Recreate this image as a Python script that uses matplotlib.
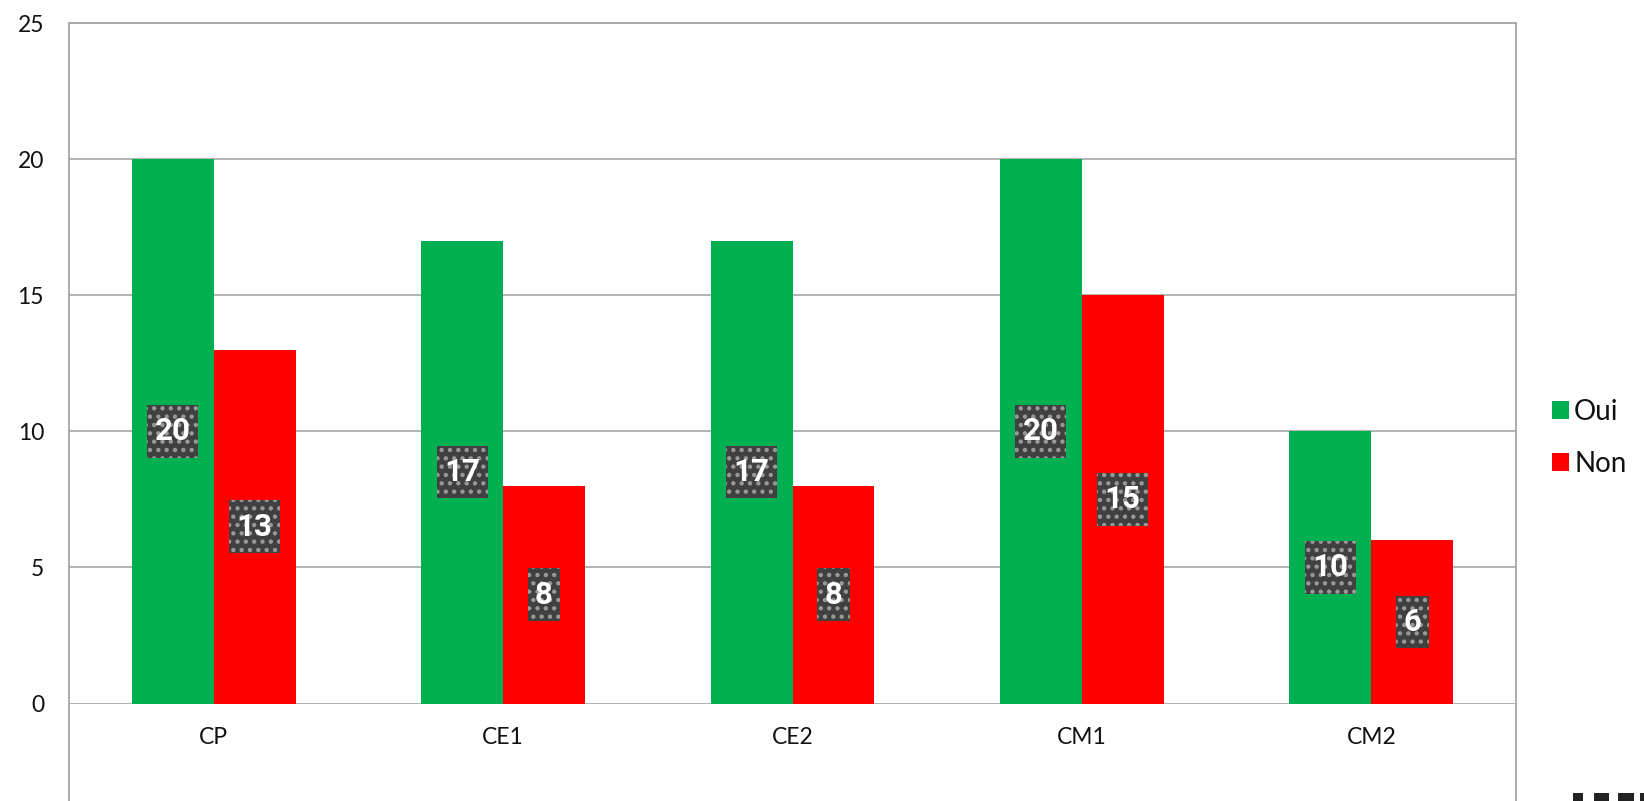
import matplotlib.pyplot as plt
import numpy as np
from matplotlib.patches import Rectangle
from matplotlib.path import Path

categories = ['CP', 'CE1', 'CE2', 'CM1', 'CM2']
oui = [20, 17, 17, 20, 10]
non = [13, 8, 8, 15, 6]
yticks = [0, 5, 10, 15, 20, 25]

plt.rcParams['hatch.linewidth'] = 1.9

W, H = 1644, 801
fig = plt.figure(figsize=(W / 100, H / 100), dpi=100)

# plot area in pixel terms
left, right, top, zero = 69, 1516, 23, 703.5
ax = fig.add_axes([left / W, (H - zero) / H, (right - left) / W, (zero - top) / H])

x = np.arange(len(categories))
bw = 0.283
green = '#00B050'
red = '#FF0000'
b1 = ax.bar(x - bw / 2, oui, bw, color=green, label='Oui', zorder=2)
b2 = ax.bar(x + bw / 2, non, bw, color=red, label='Non', zorder=2)

ax.set_xlim(-0.5, len(categories) - 0.5)
ax.set_ylim(0, 25)
ax.set_yticks(yticks)
ax.set_yticklabels([str(t) for t in yticks], fontfamily='Lato', fontsize=16.5)
ax.grid(axis='y', color='#a6a6a6', lw=1.2, zorder=0)
ax.set_axisbelow(True)
for s in ax.spines.values():
    s.set_visible(False)
ax.tick_params(length=0)
ax.tick_params(axis='y', pad=18, labelcolor='#111111')
ax.set_xticks(x)
ax.set_xticklabels(categories, fontfamily='Lato', fontsize=16.5)
ax.tick_params(axis='x', pad=17, labelcolor='#111111')


def label_box(x0, y0, width, height, mutation_size):
    # square box, less padding left/right than top/bottom
    px = 0.24 * mutation_size
    py = 0.36 * mutation_size
    return Path([(x0 - px, y0 - py), (x0 + width + px, y0 - py),
                 (x0 + width + px, y0 + height + py), (x0 - px, y0 + height + py),
                 (x0 - px, y0 - py)], closed=True)


# data labels centred in the bars
for bars, vals in ((b1, oui), (b2, non)):
    for rect, v in zip(bars, vals):
        ax.text(rect.get_x() + rect.get_width() / 2, v / 2, str(v),
                ha='center', va='center', color='white', fontsize=22.5,
                fontweight='bold', fontfamily='Roboto', zorder=4,
                bbox=dict(boxstyle=label_box, fc='#404040',
                          ec='#9a9a9a', lw=0, hatch='..'))

# outer plot-area frame, runs past the bottom of the picture
frame = Rectangle((left / W, -0.05), (right - left) / W, (H - top) / H + 0.05,
                  transform=fig.transFigure, fill=False, ec='#a6a6a6',
                  lw=1.3, clip_on=False)
fig.patches.append(frame)

# legend
leg = fig.legend(handles=[b1, b2], labels=['Oui', 'Non'],
                 loc='center left', bbox_to_anchor=(1552 / W, (H - 438) / H),
                 frameon=False, prop={'family': 'Lato', 'size': 20},
                 handlelength=0.62, handleheight=0.62, handletextpad=0.18,
                 labelspacing=0.95, borderpad=0, borderaxespad=0)
for t in leg.get_texts():
    t.set_color('#111111')

# cut-off element in the bottom right corner
for x0, w in ((1573, 10), (1594, 15), (1618, 16), (1640, 6)):
    fig.patches.append(Rectangle((x0 / W, 0), w / W, 8 / H,
                                 transform=fig.transFigure, fc='#222222',
                                 ec='none'))

fig.savefig('out.png', dpi=100)
